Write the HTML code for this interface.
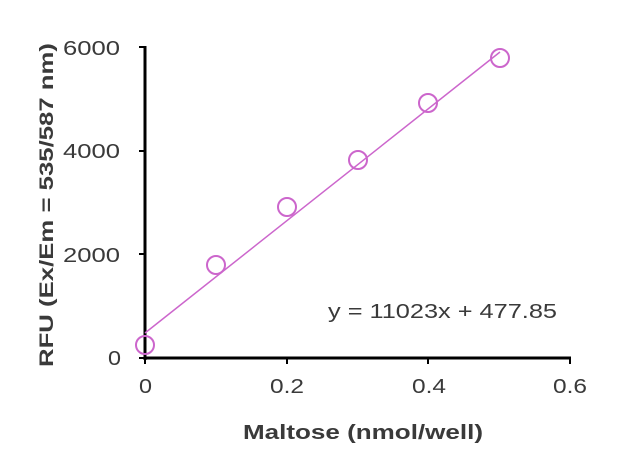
<!DOCTYPE html>
<html><head><meta charset="utf-8"><style>
html,body{margin:0;padding:0;background:#fff;}
svg{display:block;}
text{font-family:"Liberation Sans",Arial,sans-serif;}
</style></head><body>
<svg width="640" height="473" viewBox="0 0 640 473" xmlns="http://www.w3.org/2000/svg">
<rect width="640" height="473" fill="#fff"/>
<g stroke="#000" stroke-width="3" fill="none">
<line x1="145" y1="46" x2="145" y2="360"/>
<line x1="144" y1="358" x2="571" y2="358"/>
</g>
<g stroke="#000" stroke-width="2">
<line x1="139" y1="47" x2="145" y2="47"/>
<line x1="139" y1="151" x2="145" y2="151"/>
<line x1="139" y1="254" x2="145" y2="254"/>
<line x1="139" y1="358" x2="145" y2="358"/>
<line x1="145" y1="358" x2="145" y2="364"/>
<line x1="287" y1="358" x2="287" y2="364"/>
<line x1="428" y1="358" x2="428" y2="364"/>
<line x1="570" y1="358" x2="570" y2="364"/>
</g>
<g font-size="20" fill="#3a3a3a">
<text x="63" y="55" textLength="57" lengthAdjust="spacingAndGlyphs">6000</text>
<text x="63" y="158" textLength="57" lengthAdjust="spacingAndGlyphs">4000</text>
<text x="63" y="262" textLength="57" lengthAdjust="spacingAndGlyphs">2000</text>
<text x="108" y="365" textLength="13" lengthAdjust="spacingAndGlyphs">0</text>
<text x="139" y="393" textLength="13" lengthAdjust="spacingAndGlyphs">0</text>
<text x="270" y="393" textLength="34" lengthAdjust="spacingAndGlyphs">0.2</text>
<text x="412" y="393" textLength="34" lengthAdjust="spacingAndGlyphs">0.4</text>
<text x="553" y="393" textLength="34" lengthAdjust="spacingAndGlyphs">0.6</text>
</g>
<line x1="145" y1="333" x2="500" y2="52" stroke="#cc66cc" stroke-width="1.5"/>
<g stroke="#cc66cc" stroke-width="2" fill="none">
<circle cx="145" cy="345" r="9"/>
<circle cx="216" cy="265" r="9"/>
<circle cx="287" cy="207" r="9"/>
<circle cx="358" cy="160" r="9"/>
<circle cx="428" cy="103" r="9"/>
<circle cx="500" cy="58" r="9"/>
</g>
<text x="328" y="318" font-size="20" fill="#3a3a3a" textLength="229" lengthAdjust="spacingAndGlyphs">y = 11023x + 477.85</text>
<text x="243" y="439" font-size="20" font-weight="bold" fill="#3a3a3a" textLength="240" lengthAdjust="spacingAndGlyphs">Maltose (nmol/well)</text>
<text transform="translate(53,367) rotate(-90)" font-size="19" font-weight="bold" fill="#3a3a3a" textLength="324" lengthAdjust="spacingAndGlyphs">RFU (Ex/Em = 535/587  nm)</text>
</svg>
</body></html>
